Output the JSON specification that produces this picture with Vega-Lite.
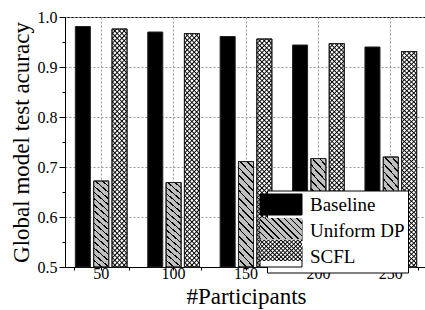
{
"$schema": "https://vega.github.io/schema/vega-lite/v6.json",
"width": 362,
"height": 250,
"autosize": "none",
"padding": {"left": 65, "top": 17, "right": 0, "bottom": 43},
"background": "white",
"config": {
  "font": "Liberation Serif",
  "view": {"stroke": "black", "strokeWidth": 1},
  "axis": {"labelFont": "Liberation Serif", "titleFont": "Liberation Serif", "labelColor": "black", "titleColor": "black", "tickColor": "black", "domainColor": "black", "titleFontWeight": "normal", "labelFontSize": 16, "titleFontSize": 23, "gridColor": "#999", "gridDash": [2, 2], "gridWidth": 1},
  "legend": {"labelFont": "Liberation Serif", "orient": "none", "legendX": 202, "legendY": 173.5, "symbolType": "M-2,-1H2V1H-2Z", "symbolSize": 441, "symbolStrokeWidth": 1, "symbolStrokeColor": "black", "labelFontSize": 19, "labelOffset": 18, "rowPadding": 0, "padding": 3}
},
"data": {"values": [
  {"participants": 50, "series": "Baseline", "value": 0.981},
  {"participants": 50, "series": "Uniform DP", "value": 0.672},
  {"participants": 50, "series": "SCFL", "value": 0.976},
  {"participants": 100, "series": "Baseline", "value": 0.970},
  {"participants": 100, "series": "Uniform DP", "value": 0.669},
  {"participants": 100, "series": "SCFL", "value": 0.967},
  {"participants": 150, "series": "Baseline", "value": 0.961},
  {"participants": 150, "series": "Uniform DP", "value": 0.711},
  {"participants": 150, "series": "SCFL", "value": 0.956},
  {"participants": 200, "series": "Baseline", "value": 0.944},
  {"participants": 200, "series": "Uniform DP", "value": 0.717},
  {"participants": 200, "series": "SCFL", "value": 0.947},
  {"participants": 250, "series": "Baseline", "value": 0.940},
  {"participants": 250, "series": "Uniform DP", "value": 0.720},
  {"participants": 250, "series": "SCFL", "value": 0.931}
]},
"encoding": {
  "x": {"field": "participants", "type": "ordinal", "sort": "ascending", "scale": {"paddingInner": 0.24, "paddingOuter": 0.12}, "axis": null},
  "xOffset": {"field": "series", "type": "nominal", "scale": {"domain": ["Baseline", "Uniform DP", "SCFL"], "paddingInner": 0.18, "paddingOuter": 0.09}},
  "y": {"field": "value", "type": "quantitative", "scale": {"domain": [0.5, 1], "nice": false, "zero": false}, "axis": null},
  "y2": {"datum": 0.5}
},
"resolve": {"scale": {"opacity": "independent"}, "legend": {"opacity": "independent"}, "axis": {"x": "independent", "y": "independent"}},
"layer": [
  {
    "mark": {"type": "bar", "stroke": "#222", "strokeWidth": 1},
    "encoding": {
      "x": {"field": "participants", "type": "ordinal", "sort": "ascending", "scale": {"paddingInner": 0.24, "paddingOuter": 0.12}, "axis": {"orient": "bottom", "title": "#Participants", "labelFont": "Liberation Serif", "labelAngle": 0, "tickSize": 3, "labelPadding": -5, "grid": true, "bandPosition": 0.5, "titlePadding": 4}},
      "y": {"field": "value", "type": "quantitative", "scale": {"domain": [0.5, 1], "nice": false, "zero": false}, "axis": {"orient": "left", "title": "Global model test acuracy", "labelFont": "Liberation Serif", "values": [0.5, 0.6, 0.7, 0.8, 0.9, 1.0], "format": ".1f", "tickSize": 6, "labelPadding": 2, "grid": true, "titlePadding": 4}},
      "fill": {"field": "series", "type": "nominal", "scale": {"domain": ["Baseline", "Uniform DP", "SCFL"], "range": ["#000000", "#c0c0c0", "#ffffff"]},
        "legend": {"title": null, "strokeColor": "black", "fillColor": "white", "labelColor": "black"}}
    }
  },
  {
    "transform": [{"filter": "datum.series === 'Uniform DP'"}],
    "mark": {"type": "bar", "stroke": "#222", "strokeWidth": 1, "fill": {"gradient": "linear", "x1": 0, "y1": 1, "x2": 0.171, "y2": -0.126, "stops": [
      {"offset": 0, "color": "#000"}, {"offset": 0.014, "color": "#000"}, {"offset": 0.014, "color": "transparent"}, {"offset": 0.0625, "color": "transparent"},
      {"offset": 0.0625, "color": "#000"}, {"offset": 0.0765, "color": "#000"}, {"offset": 0.0765, "color": "transparent"}, {"offset": 0.125, "color": "transparent"},
      {"offset": 0.125, "color": "#000"}, {"offset": 0.139, "color": "#000"}, {"offset": 0.139, "color": "transparent"}, {"offset": 0.1875, "color": "transparent"},
      {"offset": 0.1875, "color": "#000"}, {"offset": 0.2015, "color": "#000"}, {"offset": 0.2015, "color": "transparent"}, {"offset": 0.25, "color": "transparent"},
      {"offset": 0.25, "color": "#000"}, {"offset": 0.264, "color": "#000"}, {"offset": 0.264, "color": "transparent"}, {"offset": 0.3125, "color": "transparent"},
      {"offset": 0.3125, "color": "#000"}, {"offset": 0.3265, "color": "#000"}, {"offset": 0.3265, "color": "transparent"}, {"offset": 0.375, "color": "transparent"},
      {"offset": 0.375, "color": "#000"}, {"offset": 0.389, "color": "#000"}, {"offset": 0.389, "color": "transparent"}, {"offset": 0.4375, "color": "transparent"},
      {"offset": 0.4375, "color": "#000"}, {"offset": 0.4515, "color": "#000"}, {"offset": 0.4515, "color": "transparent"}, {"offset": 0.5, "color": "transparent"},
      {"offset": 0.5, "color": "#000"}, {"offset": 0.514, "color": "#000"}, {"offset": 0.514, "color": "transparent"}, {"offset": 0.5625, "color": "transparent"},
      {"offset": 0.5625, "color": "#000"}, {"offset": 0.5765, "color": "#000"}, {"offset": 0.5765, "color": "transparent"}, {"offset": 0.625, "color": "transparent"},
      {"offset": 0.625, "color": "#000"}, {"offset": 0.639, "color": "#000"}, {"offset": 0.639, "color": "transparent"}, {"offset": 0.6875, "color": "transparent"},
      {"offset": 0.6875, "color": "#000"}, {"offset": 0.7015, "color": "#000"}, {"offset": 0.7015, "color": "transparent"}, {"offset": 0.75, "color": "transparent"},
      {"offset": 0.75, "color": "#000"}, {"offset": 0.764, "color": "#000"}, {"offset": 0.764, "color": "transparent"}, {"offset": 0.8125, "color": "transparent"},
      {"offset": 0.8125, "color": "#000"}, {"offset": 0.8265, "color": "#000"}, {"offset": 0.8265, "color": "transparent"}, {"offset": 0.875, "color": "transparent"},
      {"offset": 0.875, "color": "#000"}, {"offset": 0.889, "color": "#000"}, {"offset": 0.889, "color": "transparent"}, {"offset": 0.9375, "color": "transparent"},
      {"offset": 0.9375, "color": "#000"}, {"offset": 0.9515, "color": "#000"}, {"offset": 0.9515, "color": "transparent"}, {"offset": 1, "color": "transparent"}
    ]}}
  },
  {
    "transform": [{"filter": "datum.series === 'SCFL'"}],
    "mark": {"type": "bar", "fill": {"gradient": "linear", "x1": 0, "y1": 1, "x2": 0.07, "y2": -0.061, "stops": [
      {"offset": 0, "color": "#000"}, {"offset": 0.0054, "color": "transparent"}, {"offset": 0.0138, "color": "transparent"},
      {"offset": 0.0192, "color": "#000"}, {"offset": 0.0246, "color": "transparent"}, {"offset": 0.0331, "color": "transparent"},
      {"offset": 0.0385, "color": "#000"}, {"offset": 0.0439, "color": "transparent"}, {"offset": 0.0523, "color": "transparent"},
      {"offset": 0.0577, "color": "#000"}, {"offset": 0.0631, "color": "transparent"}, {"offset": 0.0715, "color": "transparent"},
      {"offset": 0.0769, "color": "#000"}, {"offset": 0.0823, "color": "transparent"}, {"offset": 0.0908, "color": "transparent"},
      {"offset": 0.0962, "color": "#000"}, {"offset": 0.1016, "color": "transparent"}, {"offset": 0.11, "color": "transparent"},
      {"offset": 0.1154, "color": "#000"}, {"offset": 0.1208, "color": "transparent"}, {"offset": 0.1292, "color": "transparent"},
      {"offset": 0.1346, "color": "#000"}, {"offset": 0.14, "color": "transparent"}, {"offset": 0.1484, "color": "transparent"},
      {"offset": 0.1538, "color": "#000"}, {"offset": 0.1592, "color": "transparent"}, {"offset": 0.1677, "color": "transparent"},
      {"offset": 0.1731, "color": "#000"}, {"offset": 0.1785, "color": "transparent"}, {"offset": 0.1869, "color": "transparent"},
      {"offset": 0.1923, "color": "#000"}, {"offset": 0.1977, "color": "transparent"}, {"offset": 0.2061, "color": "transparent"},
      {"offset": 0.2115, "color": "#000"}, {"offset": 0.2169, "color": "transparent"}, {"offset": 0.2254, "color": "transparent"},
      {"offset": 0.2308, "color": "#000"}, {"offset": 0.2362, "color": "transparent"}, {"offset": 0.2446, "color": "transparent"},
      {"offset": 0.25, "color": "#000"}, {"offset": 0.2554, "color": "transparent"}, {"offset": 0.2638, "color": "transparent"},
      {"offset": 0.2692, "color": "#000"}, {"offset": 0.2746, "color": "transparent"}, {"offset": 0.2831, "color": "transparent"},
      {"offset": 0.2885, "color": "#000"}, {"offset": 0.2939, "color": "transparent"}, {"offset": 0.3023, "color": "transparent"},
      {"offset": 0.3077, "color": "#000"}, {"offset": 0.3131, "color": "transparent"}, {"offset": 0.3215, "color": "transparent"},
      {"offset": 0.3269, "color": "#000"}, {"offset": 0.3323, "color": "transparent"}, {"offset": 0.3408, "color": "transparent"},
      {"offset": 0.3462, "color": "#000"}, {"offset": 0.3516, "color": "transparent"}, {"offset": 0.36, "color": "transparent"},
      {"offset": 0.3654, "color": "#000"}, {"offset": 0.3708, "color": "transparent"}, {"offset": 0.3792, "color": "transparent"},
      {"offset": 0.3846, "color": "#000"}, {"offset": 0.39, "color": "transparent"}, {"offset": 0.3984, "color": "transparent"},
      {"offset": 0.4038, "color": "#000"}, {"offset": 0.4092, "color": "transparent"}, {"offset": 0.4177, "color": "transparent"},
      {"offset": 0.4231, "color": "#000"}, {"offset": 0.4285, "color": "transparent"}, {"offset": 0.4369, "color": "transparent"},
      {"offset": 0.4423, "color": "#000"}, {"offset": 0.4477, "color": "transparent"}, {"offset": 0.4561, "color": "transparent"},
      {"offset": 0.4615, "color": "#000"}, {"offset": 0.4669, "color": "transparent"}, {"offset": 0.4754, "color": "transparent"},
      {"offset": 0.4808, "color": "#000"}, {"offset": 0.4862, "color": "transparent"}, {"offset": 0.4946, "color": "transparent"},
      {"offset": 0.5, "color": "#000"}, {"offset": 0.5054, "color": "transparent"}, {"offset": 0.5138, "color": "transparent"},
      {"offset": 0.5192, "color": "#000"}, {"offset": 0.5246, "color": "transparent"}, {"offset": 0.5331, "color": "transparent"},
      {"offset": 0.5385, "color": "#000"}, {"offset": 0.5439, "color": "transparent"}, {"offset": 0.5523, "color": "transparent"},
      {"offset": 0.5577, "color": "#000"}, {"offset": 0.5631, "color": "transparent"}, {"offset": 0.5715, "color": "transparent"},
      {"offset": 0.5769, "color": "#000"}, {"offset": 0.5823, "color": "transparent"}, {"offset": 0.5908, "color": "transparent"},
      {"offset": 0.5962, "color": "#000"}, {"offset": 0.6016, "color": "transparent"}, {"offset": 0.61, "color": "transparent"},
      {"offset": 0.6154, "color": "#000"}, {"offset": 0.6208, "color": "transparent"}, {"offset": 0.6292, "color": "transparent"},
      {"offset": 0.6346, "color": "#000"}, {"offset": 0.64, "color": "transparent"}, {"offset": 0.6484, "color": "transparent"},
      {"offset": 0.6538, "color": "#000"}, {"offset": 0.6592, "color": "transparent"}, {"offset": 0.6677, "color": "transparent"},
      {"offset": 0.6731, "color": "#000"}, {"offset": 0.6785, "color": "transparent"}, {"offset": 0.6869, "color": "transparent"},
      {"offset": 0.6923, "color": "#000"}, {"offset": 0.6977, "color": "transparent"}, {"offset": 0.7061, "color": "transparent"},
      {"offset": 0.7115, "color": "#000"}, {"offset": 0.7169, "color": "transparent"}, {"offset": 0.7254, "color": "transparent"},
      {"offset": 0.7308, "color": "#000"}, {"offset": 0.7362, "color": "transparent"}, {"offset": 0.7446, "color": "transparent"},
      {"offset": 0.75, "color": "#000"}, {"offset": 0.7554, "color": "transparent"}, {"offset": 0.7638, "color": "transparent"},
      {"offset": 0.7692, "color": "#000"}, {"offset": 0.7746, "color": "transparent"}, {"offset": 0.7831, "color": "transparent"},
      {"offset": 0.7885, "color": "#000"}, {"offset": 0.7939, "color": "transparent"}, {"offset": 0.8023, "color": "transparent"},
      {"offset": 0.8077, "color": "#000"}, {"offset": 0.8131, "color": "transparent"}, {"offset": 0.8215, "color": "transparent"},
      {"offset": 0.8269, "color": "#000"}, {"offset": 0.8323, "color": "transparent"}, {"offset": 0.8408, "color": "transparent"},
      {"offset": 0.8462, "color": "#000"}, {"offset": 0.8516, "color": "transparent"}, {"offset": 0.86, "color": "transparent"},
      {"offset": 0.8654, "color": "#000"}, {"offset": 0.8708, "color": "transparent"}, {"offset": 0.8792, "color": "transparent"},
      {"offset": 0.8846, "color": "#000"}, {"offset": 0.89, "color": "transparent"}, {"offset": 0.8984, "color": "transparent"},
      {"offset": 0.9038, "color": "#000"}, {"offset": 0.9092, "color": "transparent"}, {"offset": 0.9177, "color": "transparent"},
      {"offset": 0.9231, "color": "#000"}, {"offset": 0.9285, "color": "transparent"}, {"offset": 0.9369, "color": "transparent"},
      {"offset": 0.9423, "color": "#000"}, {"offset": 0.9477, "color": "transparent"}, {"offset": 0.9561, "color": "transparent"},
      {"offset": 0.9615, "color": "#000"}, {"offset": 0.9669, "color": "transparent"}, {"offset": 0.9754, "color": "transparent"},
      {"offset": 0.9808, "color": "#000"}, {"offset": 0.9862, "color": "transparent"}, {"offset": 0.9946, "color": "transparent"},
      {"offset": 1, "color": "#000"}
    ]}}
  },
  {
    "transform": [{"filter": "datum.series === 'SCFL'"}],
    "mark": {"type": "bar", "stroke": "#222", "strokeWidth": 1, "fill": {"gradient": "linear", "x1": 0, "y1": 0, "x2": 0.07, "y2": 1.061, "stops": [
      {"offset": 0, "color": "#000"}, {"offset": 0.0054, "color": "transparent"}, {"offset": 0.0138, "color": "transparent"},
      {"offset": 0.0192, "color": "#000"}, {"offset": 0.0246, "color": "transparent"}, {"offset": 0.0331, "color": "transparent"},
      {"offset": 0.0385, "color": "#000"}, {"offset": 0.0439, "color": "transparent"}, {"offset": 0.0523, "color": "transparent"},
      {"offset": 0.0577, "color": "#000"}, {"offset": 0.0631, "color": "transparent"}, {"offset": 0.0715, "color": "transparent"},
      {"offset": 0.0769, "color": "#000"}, {"offset": 0.0823, "color": "transparent"}, {"offset": 0.0908, "color": "transparent"},
      {"offset": 0.0962, "color": "#000"}, {"offset": 0.1016, "color": "transparent"}, {"offset": 0.11, "color": "transparent"},
      {"offset": 0.1154, "color": "#000"}, {"offset": 0.1208, "color": "transparent"}, {"offset": 0.1292, "color": "transparent"},
      {"offset": 0.1346, "color": "#000"}, {"offset": 0.14, "color": "transparent"}, {"offset": 0.1484, "color": "transparent"},
      {"offset": 0.1538, "color": "#000"}, {"offset": 0.1592, "color": "transparent"}, {"offset": 0.1677, "color": "transparent"},
      {"offset": 0.1731, "color": "#000"}, {"offset": 0.1785, "color": "transparent"}, {"offset": 0.1869, "color": "transparent"},
      {"offset": 0.1923, "color": "#000"}, {"offset": 0.1977, "color": "transparent"}, {"offset": 0.2061, "color": "transparent"},
      {"offset": 0.2115, "color": "#000"}, {"offset": 0.2169, "color": "transparent"}, {"offset": 0.2254, "color": "transparent"},
      {"offset": 0.2308, "color": "#000"}, {"offset": 0.2362, "color": "transparent"}, {"offset": 0.2446, "color": "transparent"},
      {"offset": 0.25, "color": "#000"}, {"offset": 0.2554, "color": "transparent"}, {"offset": 0.2638, "color": "transparent"},
      {"offset": 0.2692, "color": "#000"}, {"offset": 0.2746, "color": "transparent"}, {"offset": 0.2831, "color": "transparent"},
      {"offset": 0.2885, "color": "#000"}, {"offset": 0.2939, "color": "transparent"}, {"offset": 0.3023, "color": "transparent"},
      {"offset": 0.3077, "color": "#000"}, {"offset": 0.3131, "color": "transparent"}, {"offset": 0.3215, "color": "transparent"},
      {"offset": 0.3269, "color": "#000"}, {"offset": 0.3323, "color": "transparent"}, {"offset": 0.3408, "color": "transparent"},
      {"offset": 0.3462, "color": "#000"}, {"offset": 0.3516, "color": "transparent"}, {"offset": 0.36, "color": "transparent"},
      {"offset": 0.3654, "color": "#000"}, {"offset": 0.3708, "color": "transparent"}, {"offset": 0.3792, "color": "transparent"},
      {"offset": 0.3846, "color": "#000"}, {"offset": 0.39, "color": "transparent"}, {"offset": 0.3984, "color": "transparent"},
      {"offset": 0.4038, "color": "#000"}, {"offset": 0.4092, "color": "transparent"}, {"offset": 0.4177, "color": "transparent"},
      {"offset": 0.4231, "color": "#000"}, {"offset": 0.4285, "color": "transparent"}, {"offset": 0.4369, "color": "transparent"},
      {"offset": 0.4423, "color": "#000"}, {"offset": 0.4477, "color": "transparent"}, {"offset": 0.4561, "color": "transparent"},
      {"offset": 0.4615, "color": "#000"}, {"offset": 0.4669, "color": "transparent"}, {"offset": 0.4754, "color": "transparent"},
      {"offset": 0.4808, "color": "#000"}, {"offset": 0.4862, "color": "transparent"}, {"offset": 0.4946, "color": "transparent"},
      {"offset": 0.5, "color": "#000"}, {"offset": 0.5054, "color": "transparent"}, {"offset": 0.5138, "color": "transparent"},
      {"offset": 0.5192, "color": "#000"}, {"offset": 0.5246, "color": "transparent"}, {"offset": 0.5331, "color": "transparent"},
      {"offset": 0.5385, "color": "#000"}, {"offset": 0.5439, "color": "transparent"}, {"offset": 0.5523, "color": "transparent"},
      {"offset": 0.5577, "color": "#000"}, {"offset": 0.5631, "color": "transparent"}, {"offset": 0.5715, "color": "transparent"},
      {"offset": 0.5769, "color": "#000"}, {"offset": 0.5823, "color": "transparent"}, {"offset": 0.5908, "color": "transparent"},
      {"offset": 0.5962, "color": "#000"}, {"offset": 0.6016, "color": "transparent"}, {"offset": 0.61, "color": "transparent"},
      {"offset": 0.6154, "color": "#000"}, {"offset": 0.6208, "color": "transparent"}, {"offset": 0.6292, "color": "transparent"},
      {"offset": 0.6346, "color": "#000"}, {"offset": 0.64, "color": "transparent"}, {"offset": 0.6484, "color": "transparent"},
      {"offset": 0.6538, "color": "#000"}, {"offset": 0.6592, "color": "transparent"}, {"offset": 0.6677, "color": "transparent"},
      {"offset": 0.6731, "color": "#000"}, {"offset": 0.6785, "color": "transparent"}, {"offset": 0.6869, "color": "transparent"},
      {"offset": 0.6923, "color": "#000"}, {"offset": 0.6977, "color": "transparent"}, {"offset": 0.7061, "color": "transparent"},
      {"offset": 0.7115, "color": "#000"}, {"offset": 0.7169, "color": "transparent"}, {"offset": 0.7254, "color": "transparent"},
      {"offset": 0.7308, "color": "#000"}, {"offset": 0.7362, "color": "transparent"}, {"offset": 0.7446, "color": "transparent"},
      {"offset": 0.75, "color": "#000"}, {"offset": 0.7554, "color": "transparent"}, {"offset": 0.7638, "color": "transparent"},
      {"offset": 0.7692, "color": "#000"}, {"offset": 0.7746, "color": "transparent"}, {"offset": 0.7831, "color": "transparent"},
      {"offset": 0.7885, "color": "#000"}, {"offset": 0.7939, "color": "transparent"}, {"offset": 0.8023, "color": "transparent"},
      {"offset": 0.8077, "color": "#000"}, {"offset": 0.8131, "color": "transparent"}, {"offset": 0.8215, "color": "transparent"},
      {"offset": 0.8269, "color": "#000"}, {"offset": 0.8323, "color": "transparent"}, {"offset": 0.8408, "color": "transparent"},
      {"offset": 0.8462, "color": "#000"}, {"offset": 0.8516, "color": "transparent"}, {"offset": 0.86, "color": "transparent"},
      {"offset": 0.8654, "color": "#000"}, {"offset": 0.8708, "color": "transparent"}, {"offset": 0.8792, "color": "transparent"},
      {"offset": 0.8846, "color": "#000"}, {"offset": 0.89, "color": "transparent"}, {"offset": 0.8984, "color": "transparent"},
      {"offset": 0.9038, "color": "#000"}, {"offset": 0.9092, "color": "transparent"}, {"offset": 0.9177, "color": "transparent"},
      {"offset": 0.9231, "color": "#000"}, {"offset": 0.9285, "color": "transparent"}, {"offset": 0.9369, "color": "transparent"},
      {"offset": 0.9423, "color": "#000"}, {"offset": 0.9477, "color": "transparent"}, {"offset": 0.9561, "color": "transparent"},
      {"offset": 0.9615, "color": "#000"}, {"offset": 0.9669, "color": "transparent"}, {"offset": 0.9754, "color": "transparent"},
      {"offset": 0.9808, "color": "#000"}, {"offset": 0.9862, "color": "transparent"}, {"offset": 0.9946, "color": "transparent"},
      {"offset": 1, "color": "#000"}
    ]}}
  },
  {
    "transform": [{"filter": "false"}],
    "mark": {"type": "bar", "stroke": "black", "strokeWidth": 1, "fill": {"gradient": "linear", "x1": 0, "y1": 1, "x2": 1.2, "y2": 0.4, "stops": [
      {"offset": 0, "color": "#000"}, {"offset": 0.024, "color": "#000"}, {"offset": 0.024, "color": "#c0c0c0"}, {"offset": 0.1, "color": "#c0c0c0"},
      {"offset": 0.1, "color": "#000"}, {"offset": 0.124, "color": "#000"}, {"offset": 0.124, "color": "#c0c0c0"}, {"offset": 0.2, "color": "#c0c0c0"},
      {"offset": 0.2, "color": "#000"}, {"offset": 0.224, "color": "#000"}, {"offset": 0.224, "color": "#c0c0c0"}, {"offset": 0.3, "color": "#c0c0c0"},
      {"offset": 0.3, "color": "#000"}, {"offset": 0.324, "color": "#000"}, {"offset": 0.324, "color": "#c0c0c0"}, {"offset": 0.4, "color": "#c0c0c0"},
      {"offset": 0.4, "color": "#000"}, {"offset": 0.424, "color": "#000"}, {"offset": 0.424, "color": "#c0c0c0"}, {"offset": 0.5, "color": "#c0c0c0"},
      {"offset": 0.5, "color": "#000"}, {"offset": 0.524, "color": "#000"}, {"offset": 0.524, "color": "#c0c0c0"}, {"offset": 0.6, "color": "#c0c0c0"},
      {"offset": 0.6, "color": "#000"}, {"offset": 0.624, "color": "#000"}, {"offset": 0.624, "color": "#c0c0c0"}, {"offset": 0.7, "color": "#c0c0c0"},
      {"offset": 0.7, "color": "#000"}, {"offset": 0.724, "color": "#000"}, {"offset": 0.724, "color": "#c0c0c0"}, {"offset": 0.8, "color": "#c0c0c0"},
      {"offset": 0.8, "color": "#000"}, {"offset": 0.824, "color": "#000"}, {"offset": 0.824, "color": "#c0c0c0"}, {"offset": 0.9, "color": "#c0c0c0"},
      {"offset": 0.9, "color": "#000"}, {"offset": 0.924, "color": "#000"}, {"offset": 0.924, "color": "#c0c0c0"}, {"offset": 1, "color": "#c0c0c0"}
    ]}},
    "encoding": {
      "opacity": {"field": "series", "type": "ordinal", "scale": {"type": "ordinal", "domain": ["Baseline", "Uniform DP", "SCFL", "_a"], "range": [0, 1, 0, 0]},
        "legend": {"values": ["Baseline", "Uniform DP", "SCFL"], "title": null, "labelColor": "transparent"}}
    }
  },
  {
    "transform": [{"filter": "false"}],
    "mark": {"type": "bar", "stroke": "black", "strokeWidth": 1, "fill": {"gradient": "linear", "x1": 0, "y1": 1, "x2": 1.2, "y2": 0.4, "stops": [
      {"offset": 0, "color": "#000"}, {"offset": 0.021, "color": "#fff"}, {"offset": 0.0457, "color": "#fff"},
      {"offset": 0.0667, "color": "#000"}, {"offset": 0.0877, "color": "#fff"}, {"offset": 0.1123, "color": "#fff"},
      {"offset": 0.1333, "color": "#000"}, {"offset": 0.1543, "color": "#fff"}, {"offset": 0.179, "color": "#fff"},
      {"offset": 0.2, "color": "#000"}, {"offset": 0.221, "color": "#fff"}, {"offset": 0.2457, "color": "#fff"},
      {"offset": 0.2667, "color": "#000"}, {"offset": 0.2877, "color": "#fff"}, {"offset": 0.3123, "color": "#fff"},
      {"offset": 0.3333, "color": "#000"}, {"offset": 0.3543, "color": "#fff"}, {"offset": 0.379, "color": "#fff"},
      {"offset": 0.4, "color": "#000"}, {"offset": 0.421, "color": "#fff"}, {"offset": 0.4457, "color": "#fff"},
      {"offset": 0.4667, "color": "#000"}, {"offset": 0.4877, "color": "#fff"}, {"offset": 0.5123, "color": "#fff"},
      {"offset": 0.5333, "color": "#000"}, {"offset": 0.5543, "color": "#fff"}, {"offset": 0.579, "color": "#fff"},
      {"offset": 0.6, "color": "#000"}, {"offset": 0.621, "color": "#fff"}, {"offset": 0.6457, "color": "#fff"},
      {"offset": 0.6667, "color": "#000"}, {"offset": 0.6877, "color": "#fff"}, {"offset": 0.7123, "color": "#fff"},
      {"offset": 0.7333, "color": "#000"}, {"offset": 0.7543, "color": "#fff"}, {"offset": 0.779, "color": "#fff"},
      {"offset": 0.8, "color": "#000"}, {"offset": 0.821, "color": "#fff"}, {"offset": 0.8457, "color": "#fff"},
      {"offset": 0.8667, "color": "#000"}, {"offset": 0.8877, "color": "#fff"}, {"offset": 0.9123, "color": "#fff"},
      {"offset": 0.9333, "color": "#000"}, {"offset": 0.9543, "color": "#fff"}, {"offset": 0.979, "color": "#fff"},
      {"offset": 1, "color": "#000"}
    ]}},
    "encoding": {
      "opacity": {"field": "series", "type": "ordinal", "scale": {"type": "ordinal", "domain": ["Baseline", "Uniform DP", "SCFL", "_b"], "range": [0, 0, 1, 0]},
        "legend": {"values": ["Baseline", "Uniform DP", "SCFL"], "title": null, "labelColor": "transparent"}}
    }
  },
  {
    "transform": [{"filter": "false"}],
    "mark": {"type": "bar", "stroke": "black", "strokeWidth": 1, "fill": {"gradient": "linear", "x1": 0, "y1": 0, "x2": 1.2, "y2": 0.6, "stops": [
      {"offset": 0, "color": "#000"}, {"offset": 0.021, "color": "transparent"}, {"offset": 0.0457, "color": "transparent"},
      {"offset": 0.0667, "color": "#000"}, {"offset": 0.0877, "color": "transparent"}, {"offset": 0.1123, "color": "transparent"},
      {"offset": 0.1333, "color": "#000"}, {"offset": 0.1543, "color": "transparent"}, {"offset": 0.179, "color": "transparent"},
      {"offset": 0.2, "color": "#000"}, {"offset": 0.221, "color": "transparent"}, {"offset": 0.2457, "color": "transparent"},
      {"offset": 0.2667, "color": "#000"}, {"offset": 0.2877, "color": "transparent"}, {"offset": 0.3123, "color": "transparent"},
      {"offset": 0.3333, "color": "#000"}, {"offset": 0.3543, "color": "transparent"}, {"offset": 0.379, "color": "transparent"},
      {"offset": 0.4, "color": "#000"}, {"offset": 0.421, "color": "transparent"}, {"offset": 0.4457, "color": "transparent"},
      {"offset": 0.4667, "color": "#000"}, {"offset": 0.4877, "color": "transparent"}, {"offset": 0.5123, "color": "transparent"},
      {"offset": 0.5333, "color": "#000"}, {"offset": 0.5543, "color": "transparent"}, {"offset": 0.579, "color": "transparent"},
      {"offset": 0.6, "color": "#000"}, {"offset": 0.621, "color": "transparent"}, {"offset": 0.6457, "color": "transparent"},
      {"offset": 0.6667, "color": "#000"}, {"offset": 0.6877, "color": "transparent"}, {"offset": 0.7123, "color": "transparent"},
      {"offset": 0.7333, "color": "#000"}, {"offset": 0.7543, "color": "transparent"}, {"offset": 0.779, "color": "transparent"},
      {"offset": 0.8, "color": "#000"}, {"offset": 0.821, "color": "transparent"}, {"offset": 0.8457, "color": "transparent"},
      {"offset": 0.8667, "color": "#000"}, {"offset": 0.8877, "color": "transparent"}, {"offset": 0.9123, "color": "transparent"},
      {"offset": 0.9333, "color": "#000"}, {"offset": 0.9543, "color": "transparent"}, {"offset": 0.979, "color": "transparent"},
      {"offset": 1, "color": "#000"}
    ]}},
    "encoding": {
      "x": {"field": "participants", "type": "ordinal", "sort": "ascending", "scale": {"paddingInner": 0.24, "paddingOuter": 0.12}, "axis": {"orient": "bottom", "tickBand": "extent", "labels": false, "domain": false, "grid": false, "title": null, "tickSize": 3}},
      "y": {"field": "value", "type": "quantitative", "scale": {"domain": [0.5, 1], "nice": false, "zero": false}, "axis": {"orient": "left", "values": [0.55, 0.65, 0.75, 0.85, 0.95], "labels": false, "domain": false, "grid": false, "title": null, "tickSize": 3}},
      "opacity": {"field": "series", "type": "ordinal", "scale": {"type": "ordinal", "domain": ["Baseline", "Uniform DP", "SCFL", "_c"], "range": [0, 0, 1, 0]},
        "legend": {"values": ["Baseline", "Uniform DP", "SCFL"], "title": null, "labelColor": "transparent"}}
    }
  }
]
}
